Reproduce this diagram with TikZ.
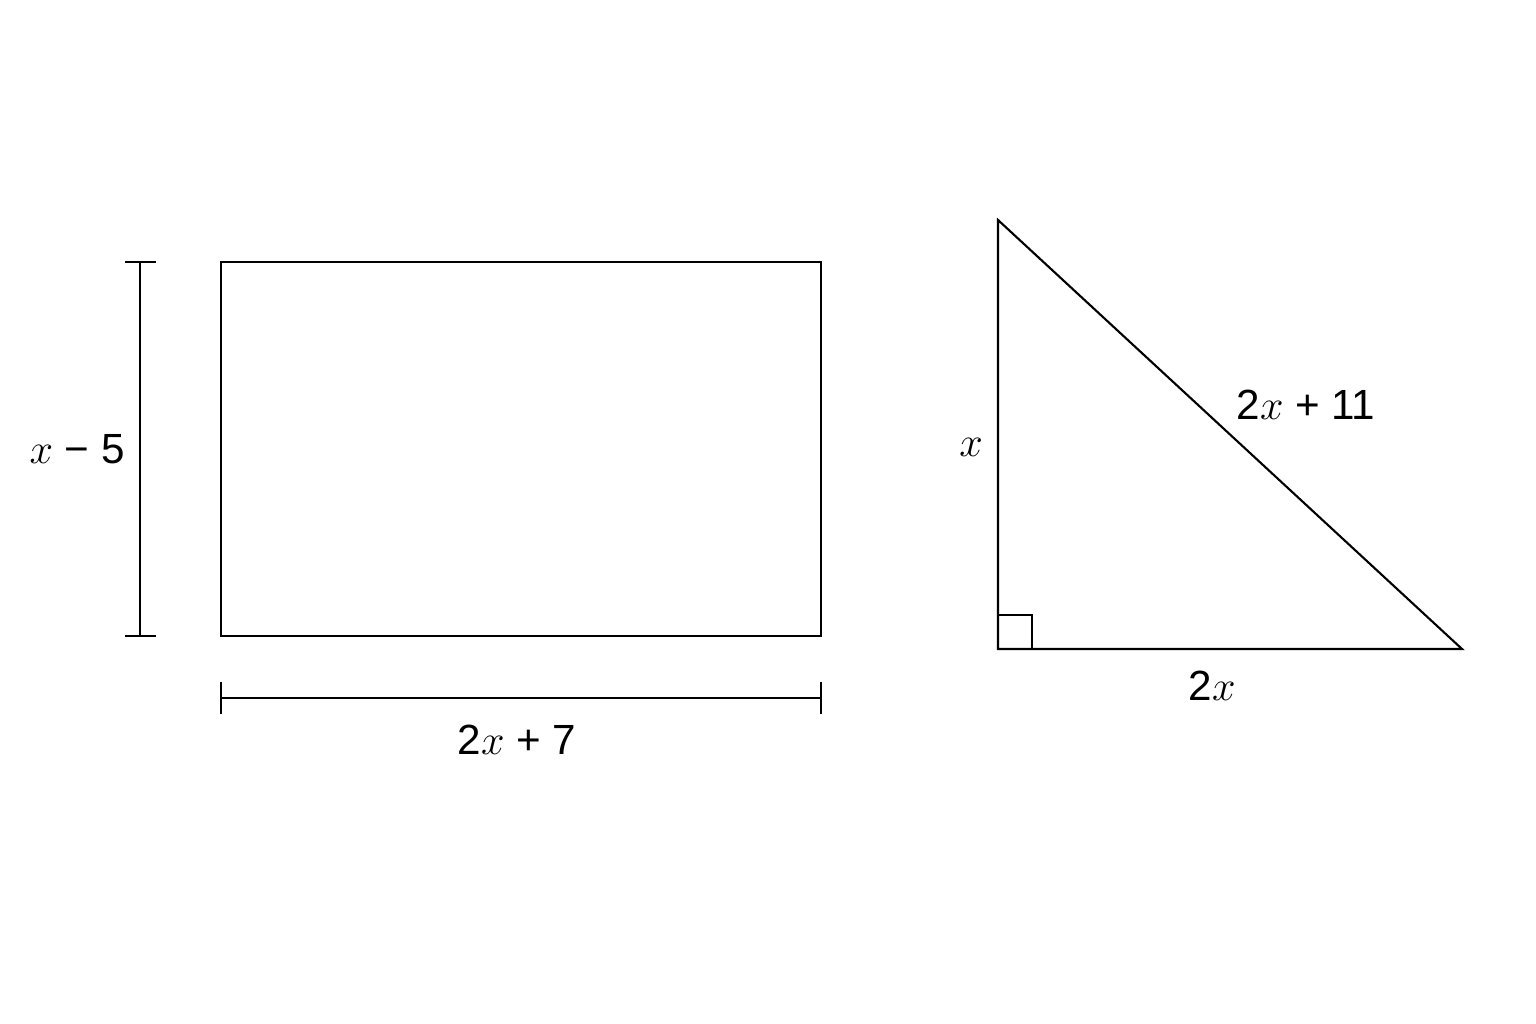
\documentclass[tikz,border=0pt]{standalone}
\usepackage{fontspec}
\setmainfont{Liberation Sans}
\usetikzlibrary{calc}
\begin{document}
\begin{tikzpicture}[x=0.01cm,y=-0.01cm,
  shape line/.style={line width=0.6pt, line join=miter},
  dimline/.style={line width=0.6pt},
  lbl/.style={font=\fontsize{12}{14}\selectfont, inner sep=1pt}]
\useasboundingbox (0,0) rectangle (1536,1024);
% rectangle
\coordinate (r1) at (221,262);
\coordinate (r2) at (821,636);
\draw[shape line] (r1) rectangle (r2);
% vertical dimension
\coordinate (vt) at (140,262);
\coordinate (vb) at (140,636);
\draw[dimline] (vt) -- (vb);
\draw[dimline] ($(vt)+(-15,0)$) -- ($(vt)+(16,0)$);
\draw[dimline] ($(vb)+(-15,0)$) -- ($(vb)+(16,0)$);
\node[lbl, anchor=east] (lh) at (129,449) {$x$ − 5};
% horizontal dimension
\coordinate (hl) at (221,698);
\coordinate (hr) at (821,698);
\draw[dimline] (hl) -- (hr);
\draw[dimline] ($(hl)+(0,-16)$) -- ($(hl)+(0,16)$);
\draw[dimline] ($(hr)+(0,-16)$) -- ($(hr)+(0,16)$);
\node[lbl] (lw) at (517,740) {2$x$ + 7};
% triangle
\coordinate (A) at (998,220);
\coordinate (B) at (998,649);
\coordinate (C) at (1462,649);
\draw[shape line] (A) -- (B) -- (C) -- cycle;
\draw[shape line] ($(B)+(0,-34)$) -- ++(34,0) -- ++(0,34);
\node[lbl] (lx) at (971,447) {$x$};
\node[lbl] (lhyp) at (1306,405) {2$x$ + 11};
\node[lbl] (lb) at (1212,686) {2$x$};
\end{tikzpicture}
\end{document}
